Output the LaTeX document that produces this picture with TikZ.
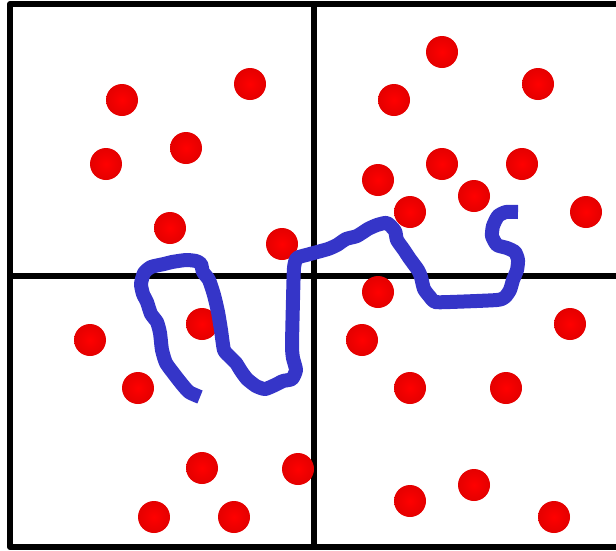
\documentclass[tikz,border=0pt]{standalone}
\definecolor{dotin}{RGB}{255,0,0}
\definecolor{dotout}{RGB}{205,0,0}
\definecolor{curveblue}{RGB}{53,53,200}
\pgfdeclareradialshading{dotshade}{\pgfpoint{0bp}{0bp}}{color(0bp)=(dotin); color(18bp)=(dotin!60!dotout); color(50bp)=(dotout)}
\tikzset{
  frame/.style={line width=6pt, draw=black, line join=round},
  reddot/.style={circle, minimum size=32pt, inner sep=0pt, shading=dotshade},
  wiggle/.style={line width=14pt, draw=curveblue, line join=round, line cap=butt}
}
\begin{document}
\begin{tikzpicture}[x=1pt, y=-1pt]
\useasboundingbox (0,0) rectangle (616,550);
\begin{scope}
\clip (0,0) rectangle (616,550);
% frame
\draw[frame] (10,4) rectangle (618.5,547);
\draw[frame] (314,4) -- (314,547);
\draw[frame] (10,275.5) -- (618,275.5);
% dots: top-left
\node[reddot] (a1) at (122,100) {};
\node[reddot] (a2) at (250,84) {};
\node[reddot] (a3) at (186,148) {};
\node[reddot] (a4) at (106,164) {};
\node[reddot] (a5) at (170,228) {};
\node[reddot] (a6) at (282,244) {};
% top-right
\node[reddot] (b1) at (442,52) {};
\node[reddot] (b2) at (538,84) {};
\node[reddot] (b3) at (394,100) {};
\node[reddot] (b4) at (442,164) {};
\node[reddot] (b5) at (522,164) {};
\node[reddot] (b6) at (378,180) {};
\node[reddot] (b7) at (474,196) {};
\node[reddot] (b8) at (410,212) {};
\node[reddot] (b9) at (586,212) {};
% bottom-left
\node[reddot] (c1) at (90,340) {};
\node[reddot] (c2) at (202,324) {};
\node[reddot] (c3) at (138,388) {};
\node[reddot] (c4) at (202,468) {};
\node[reddot] (c5) at (298,469) {};
\node[reddot] (c6) at (154,517) {};
\node[reddot] (c7) at (234,517) {};
% bottom-right
\node[reddot] (d1) at (378,292) {};
\node[reddot] (d2) at (362,340) {};
\node[reddot] (d3) at (570,324) {};
\node[reddot] (d4) at (410,388) {};
\node[reddot] (d5) at (506,388) {};
\node[reddot] (d6) at (474,485) {};
\node[reddot] (d7) at (410,501) {};
\node[reddot] (d8) at (554,517) {};
% blue curve
\draw[wiggle] plot[smooth, tension=0.35] coordinates {
(200,397) (189,392) (181,383) (174,374) (166,363) (162,350) (160,333)
(157,322) (151,314) (147,302) (143,294) (141,284) (144,273) (151,267)
(164,264) (172,262) (186,260) (196,261) (201,264) (203,272) (209,280)
(214,295) (218,312) (221,330) (224,350) (230,357) (236,363) (241,371)
(247,379) (256,386) (265,389) (275,385) (283,381) (292,379) (296,370)
(293,358) (292,346) (293,300) (294,268) (297,258) (310,254) (328,249)
(337,245) (346,239) (357,236) (368,229) (377,225) (387,223) (395,231)
(397,240) (404,250) (410,259) (418,270) (421,277) (424,289) (430,297)
(435,302) (450,302) (497,300) (505,297) (510,290) (513,280) (517,270)
(518,260) (515,252) (507,248) (497,245) (492,236) (493,226) (498,216)
(506,212) (518,212)};
\end{scope}
\end{tikzpicture}
\end{document}
